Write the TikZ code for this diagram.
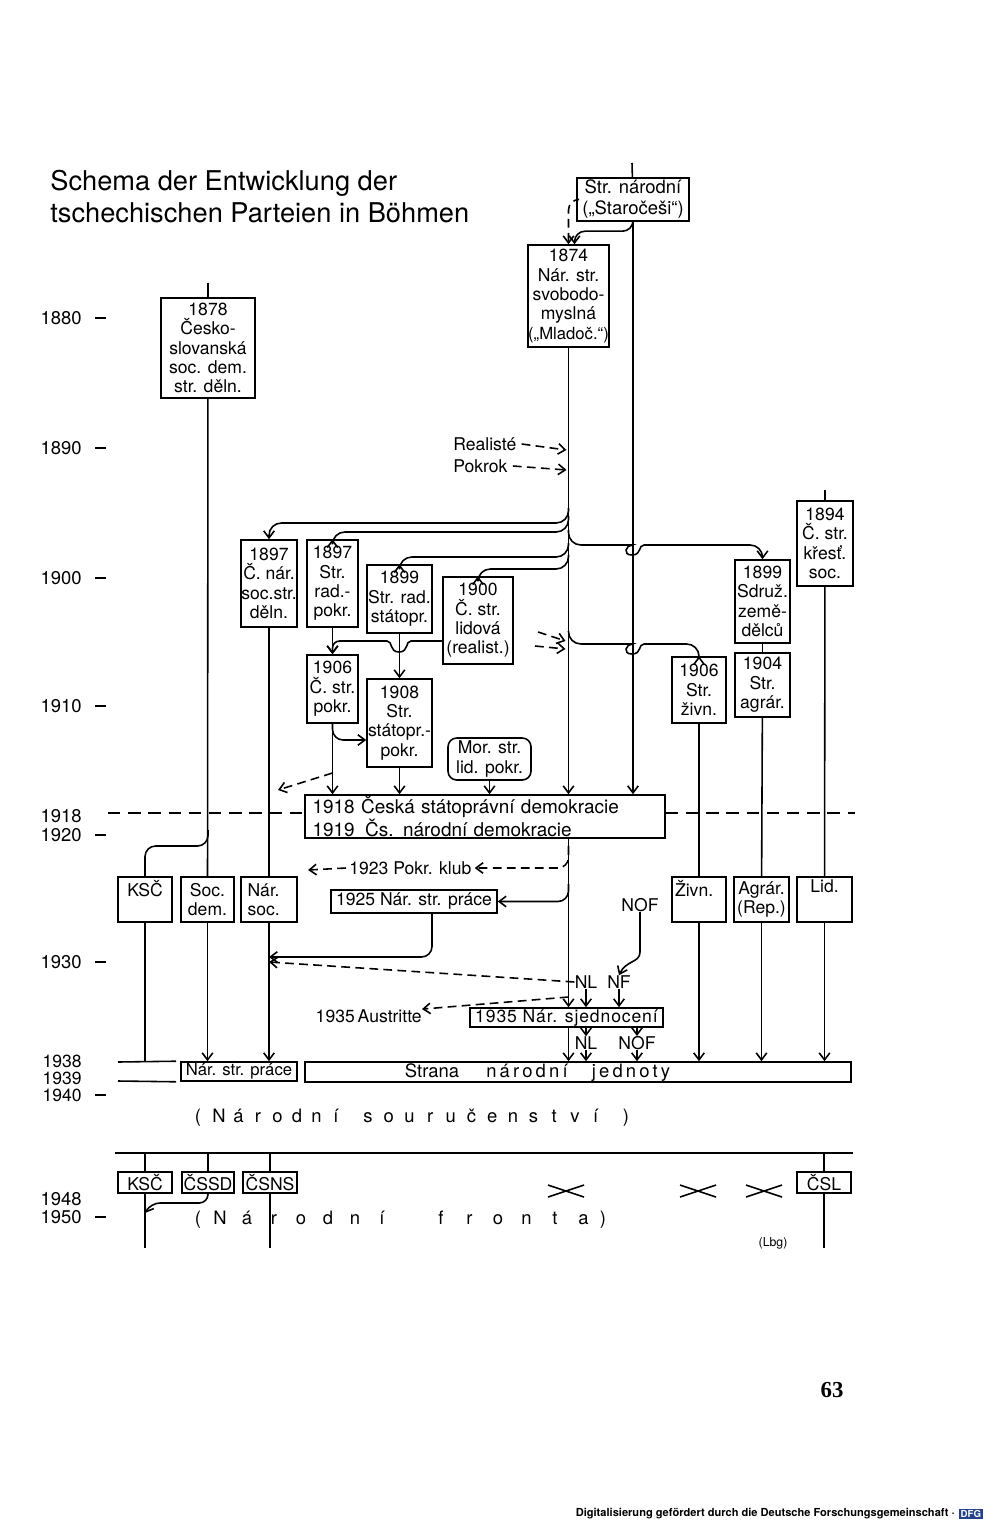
\documentclass[tikz,border=0pt]{standalone}
\usepackage{fontspec}
\setmainfont{TeX Gyre Heros}
\newfontfamily\pagenumfont{Liberation Serif}
\usetikzlibrary{arrows.meta,positioning,calc}
\definecolor{dfgblue}{HTML}{24418C}
\newcommand{\boxfont}{\fontsize{10}{11}\selectfont}
\tikzset{
  pbox/.style={draw, line width=0.9pt, inner sep=0pt, align=center, font=\boxfont},
  % box given by its corners (left, top, right, bottom), in picture pixels
  boxat/.style n args={4}{at={({(#1+#3)/2},{(#2+#4)/2})},
    minimum width={(#3-#1)*0.02cm}, minimum height={(#4-#2)*0.02cm}},
  pline/.style={line width=0.9pt},
  parr/.style={pline, -{Straight Barb[length=4pt,width=6pt]}},
  pdash/.style={parr, dash pattern=on 5pt off 3pt},
  sepline/.style={pline, dash pattern=on 7pt off 4.5pt},
  txt/.style={inner sep=0pt, font=\boxfont},
  yearlab/.style={anchor=east, inner sep=0pt, font=\fontsize{10.5}{10.5}\selectfont},
  headline/.style={anchor=west, inner sep=0pt, font=\fontsize{15.5}{18}\selectfont},
  lett/.style={anchor=base, inner sep=0pt, font=\fontsize{10.5}{11}\selectfont},
  toplab/.style={inner sep=2pt, font=\boxfont},
}

\begin{document}
\begin{tikzpicture}[x=0.02cm, y=-0.02cm]
  \useasboundingbox (0,0) rectangle (1000,1523);
  % title
  \node[headline] (title1) at (50,183) {Schema der Entwicklung der};
  \node[headline] (title2) at (50,213) {tschechischen Parteien in Böhmen};

  % time axis
  \foreach \yr/\yy in {1880/318,1890/448,1900/578,1910/706,1920/835,1930/962,1950/1217} {
    \node[yearlab] (y\yr) at (82,\yy) {\yr};
    \draw[pline] ($(y\yr.east)+(13,0)$) -- ++(11,0);
  }
  \foreach \yr/\yy in {1918/816,1948/1199}
    \node[yearlab] (y\yr) at (82,\yy) {\yr};
  \foreach \yr/\yy in {1938/1061,1939/1078,1940/1095}
    \node[yearlab, font=\fontsize{10}{10}\selectfont] (y\yr) at (82,\yy) {\yr};
  \draw[pline] ($(y1940.east)+(13,0)$) -- ++(11,0);

  % parties up to 1918
  \node[pbox, boxat={577}{178}{689}{221}, font=\fontsize{10.5}{12}\selectfont] (sn) {Str. národní\\(„Staročeši“)};
  \node[pbox, boxat={528}{245}{609}{347}] (b1874) {1874\\Nár. str.\\svobodo-\\myslná\\{\fontsize{9.5}{11}\selectfont(„Mladoč.“)}};
  \node[pbox, boxat={161}{298}{255}{398}] (b1878) {1878\\Česko-\\slovanská\\soc. dem.\\str. děln.};
  \node[pbox, boxat={241}{540}{297}{627}] (b97a) {1897\\Č. nár.\\soc.str.\\děln.};
  \node[pbox, boxat={307}{540}{358}{627}] (b97b) {1897\\Str.\\rad.-\\pokr.};
  \node[pbox, boxat={367}{565}{432}{633}] (b99r) {1899\\Str. rad.\\státopr.};
  \node[pbox, boxat={443}{577}{513}{664}] (b00) {1900\\Č. str.\\lidová\\(realist.)};
  \node[pbox, boxat={797}{501}{853}{586}] (b94) {1894\\Č. str.\\křesť.\\soc.};
  \node[pbox, boxat={735}{560}{790}{643}] (b99s) {1899\\Sdruž.\\země-\\dělců};
  \node[pbox, boxat={735}{653}{790}{717}] (b04) {1904\\Str.\\agrár.};
  \node[pbox, boxat={672}{657}{726}{723}] (b06z) {1906\\Str.\\živn.};
  \node[pbox, boxat={307}{655}{358}{723}] (b06p) {1906\\Č. str.\\pokr.};
  \node[pbox, boxat={367}{679}{432}{767}] (b08) {1908\\Str.\\státopr.-\\pokr.};
  \node[pbox, rounded corners=5pt, boxat={448}{738}{531}{780}] (mor) {Mor. str.\\lid. pokr.};
  \node[txt, anchor=west] (real) at (453,444) {Realisté};
  \node[txt, anchor=west] (pokrok) at (453,466) {Pokrok};
  \coordinate (sntop) at (632,163);
  \coordinate (b1878top) at (208,283);
  \coordinate (b94top) at (825,490);

  % 1918 and after
  \node[pbox, boxat={305}{795}{665}{838}, text width=6.9cm, align=left,
    font=\fontsize{10.8}{10.5}\selectfont] (b1918) {1918 Česká státoprávní demokracie\\1919\hspace{0.55em}Čs. národní demokracie};
  \coordinate (sepl) at (108,813);
  \coordinate (sepr) at (855,813);
  \node[pbox, boxat={118}{877}{172}{922}, label={[toplab, anchor=north]north:KSČ}] (ksc) {};
  \node[pbox, boxat={181}{877}{234}{922}] (socdem) {Soc.\\dem.};
  \node[pbox, boxat={241}{877}{297}{922}, align=left] (narsoc) {Nár.\\soc.\hspace*{0.6em}};
  \node[pbox, boxat={672}{877}{726}{922}, label={[toplab, anchor=north west]north west:Živn.}] (zivn) {};
  \node[pbox, boxat={734}{877}{789}{922}] (agrar) {Agrár.\\(Rep.)};
  \node[pbox, boxat={797}{877}{852}{922}, label={[toplab, anchor=north]north:Lid.}] (lid) {};
  \node[txt, anchor=west] (pk) at (349,868) {1923 Pokr. klub};
  \coordinate (pkl) at (308,870);
  \node[pbox, boxat={331}{890}{497}{913}] (b1925) {1925 Nár. str. práce};
  \node[txt] (nof) at (640,905) {NOF};
  \node[txt] (nl1) at (586,982) {NL};
  \node[txt] (nf1) at (619,982) {NF};
  \node[pbox, boxat={470}{1008}{663}{1027}, font=\boxfont\addfontfeature{LetterSpace=5}] (b1935) {1935 Nár. sjednocení};
  \node[txt, anchor=east] (aus) at (422,1016) {1935\,Austritte};
  \node[txt] (nl2) at (586,1043) {NL};
  \node[txt] (nof2) at (637,1043) {NOF};

  % 1938/39 band
  \node[pbox, boxat={181}{1062}{297}{1081}, font=\fontsize{9.5}{10}\selectfont] (nsp) {Nár. str. práce};
  \node[pbox, boxat={305}{1062}{851}{1082}] (snj) {};
  \node[lett] (snj1) at (432,1077) {Strana};
  \node[lett, font=\fontsize{10.5}{11}\selectfont\addfontfeature{LetterSpace=17}] (snj2) at (527,1077) {národní};
  \node[lett, font=\fontsize{10.5}{11}\selectfont\addfontfeature{LetterSpace=17}] (snj3) at (631,1077) {jednoty};
  \coordinate (bandl) at (118,1062);
  \coordinate (bandl2) at (118,1081);
  \draw[pline] (bandl) -- ($(nsp.north west)+(-4,0)$);
  \draw[pline] (bandl2) -- ($(nsp.south west)+(-4,0)$);

  % Narodni sourucenstvi, spread out
  \node[lett] (sopen) at (198,1122) {(};
  \foreach \c [count=\i] in {N,á,r,o,d,n,í}
    \node[lett] (sa\i) at ({219+(\i-1)*19.5},1122) {\c};
  \foreach \c [count=\i] in {s,o,u,r,u,č,e,n,s,t,v,í}
    \node[lett] (sb\i) at ({368+(\i-1)*20.7},1122) {\c};
  \node[lett] (sclose) at (626,1122) {)};

  % after 1948
  \coordinate (nfl) at (115,1153);
  \coordinate (nfr) at (853,1153);
  \coordinate (bend) at (0,1248);
  \node[pbox, boxat={118}{1172}{172}{1193}] (ksc2) {KSČ};
  \node[pbox, boxat={182}{1172}{234}{1193}] (cssd) {ČSSD};
  \node[pbox, boxat={243}{1172}{297}{1193}] (csns) {ČSNS};
  \node[pbox, boxat={797}{1172}{851}{1193}] (csl) {ČSL};
  \coordinate (cssdarr) at (145,1213);
  \node[lett] (fopen) at (198,1224) {(};
  \foreach \c [count=\i] in {N,á,r,o,d,n,í}
    \node[lett] (fa\i) at ({220+(\i-1)*27},1224) {\c};
  \foreach \c [count=\i] in {f,r,o,n,t,a}
    \node[lett] (fb\i) at ({441+(\i-1)*28.5},1224) {\c};
  \node[lett] (fclose) at (603,1224) {)};
  \node[txt, font=\fontsize{7}{8}\selectfont] (lbg) at (773,1243) {(Lbg)};

  % lines before 1918
  \draw[pline] (sntop) -- (sn);
  \draw[parr] (sn) -- (sn |- b1918.north);
  \draw[parr, rounded corners=6pt] (sn.south) |- ($(b1874.north)+(6,-13)$) -- ($(b1874.north)+(6,0)$);
  \draw[pdash, rounded corners=6pt] (sn.west) -| (b1874.north);
  \draw[parr] (b1874) -- (b1874 |- b1918.north);
  \draw[pdash] ($(real.east)+(5,0)$) -- ($(real.east -| b1874)+(-2,6)$);
  \draw[pdash] ($(pokrok.east)+(5,0)$) -- ($(pokrok.east -| b1874)+(-2,4)$);
  \draw[pline] (b1878top) -- (b1878);
  \draw[pline] (b1878) -- (socdem);
  % branches off the Mladoceši line
  \draw[parr, rounded corners=7pt] (b1874.south |- 0,508) |- (b97a.north |- 0,523) -- (b97a.north);
  \draw[parr, rounded corners=7pt] (b1874.south |- 0,516) |- (b97b.north |- 0,532) -- (b97b.north);
  \draw[parr, rounded corners=7pt] (b1874.south |- 0,543) |- (b99r.north |- 0,557) -- (b99r.north);
  \draw[parr, rounded corners=7pt] (b1874.south |- 0,555) |- (b00.north |- 0,569) -- (b00.north);
  \draw[parr, rounded corners=7pt] (b1874.south |- 0,530) |- (620,545) [sharp corners]
    .. controls (626,545) and (622,555) .. (632,555) .. controls (642,555) and (638,545) .. (644,545)
    [rounded corners=7pt] -| (b99s.north);
  \draw[parr, rounded corners=7pt] (b1874.south |- 0,631) |- (620,644) [sharp corners]
    .. controls (626,644) and (622,654) .. (632,654) .. controls (642,654) and (638,644) .. (644,644)
    [rounded corners=7pt] -| (b06z.north);
  \coordinate (dl1) at (538,632);
  \coordinate (dl2) at (535,646);
  \draw[pdash] (dl1) -- ($(b1874.south |- dl1)+(-3,9)$);
  \draw[pdash] (dl2) -- ($(b1874.south |- dl2)+(-3,3)$);
  % Realisten and radicals
  \draw[parr] (b97b) -- (b06p);
  \draw[parr] (b00.west |- 0,641) -- (411,641) [sharp corners]
    .. controls (405,641) and (409,652) .. (399,652) .. controls (389,652) and (393,641) .. (387,641)
    [rounded corners=4pt] -| (b06p.north);
  \draw[parr] (b99r) -- (b08);
  \draw[parr] (b06p.south) -- (b06p.south |- b1918.north);
  \draw[parr, rounded corners=6pt] (b06p.south) |- (b08.west |- 0,740);
  \draw[parr] (b08) -- (b08 |- b1918.north);
  \draw[parr] (mor) -- (mor |- b1918.north);
  \coordinate (dl3) at (278,790);
  \draw[pdash] (b06p.south |- 0,773) -- (dl3);
  \draw[pline] (b97a) -- (narsoc);
  \draw[pline] (b99s) -- (b04);
  \draw[pline] (b04) -- (agrar);
  \draw[pline] (b06z) -- (zivn);
  \draw[pline] (b94top) -- (b94);
  \draw[pline] (b94) -- (lid);
  \draw[sepline] (sepl) -- (b1918.west |- sepl);
  \draw[sepline] (b1918.east |- sepr) -- (sepr);

  % lines after 1918
  \draw[pline, rounded corners=6pt] (b1878.south |- 0,830) |- (ksc.north |- 0,846) -- (ksc.north);
  \draw[parr] (socdem) -- (socdem |- nsp.north);
  \draw[parr] (narsoc) -- (narsoc |- nsp.north);
  \draw[pline] (ksc) -- (ksc |- bandl);
  \draw[parr] (b1918.south -| b1874) -- (b1935.north -| b1874);
  \draw[pdash, rounded corners=6pt] (b1874.south |- 0,846) |- ($(pk.east)+(3,0)$);
  \draw[pdash] ($(pk.west)+(-3,0)$) -- (pkl);
  \draw[parr, rounded corners=6pt] (b1874.south |- 0,884) |- (b1925.east);
  \draw[parr, rounded corners=6pt] (b1925.south -| 432,0) |- (narsoc.south |- 0,957);
  \draw[pdash] (nl1.west) -- (narsoc.south |- 0,962);
  \draw[parr] (nof.south) -- (640,952) .. controls (640,963) and (626,960) .. (nf1.north);
  \draw[parr] (nl1) -- (nl1 |- b1935.north);
  \draw[parr] (nf1) -- (nf1 |- b1935.north);
  \draw[pdash] (b1874.south |- 0,997) -- (aus.north east);
  \draw[parr] (b1935.south -| nl2) -- (nl2);
  \draw[parr] (b1935.south -| nof2) -- (nof2);
  \draw[parr] (b1935.south -| b1874) -- (b1874 |- snj.north);
  \draw[parr] (nl2) -- (nl2 |- snj.north);
  \draw[parr] (nof2) -- (nof2 |- snj.north);
  \draw[parr] (zivn) -- (zivn |- snj.north);
  \draw[parr] (agrar) -- (agrar |- snj.north);
  \draw[parr] (lid) -- (lid |- snj.north);

  % after 1948
  \draw[pline] (nfl) -- (nfr);
  \draw[pline] (ksc2 |- nfl) -- (ksc2);
  \draw[pline] (ksc2) -- (ksc2 |- bend);
  \draw[pline] (cssd |- nfl) -- (cssd);
  \draw[parr, rounded corners=5pt] (cssd.south) |- ($(cssdarr)+(6,-10)$) -- (cssdarr);
  \draw[pline] (csns |- nfl) -- (csns);
  \draw[pline] (csns) -- (csns |- bend);
  \draw[pline] (csl |- nfl) -- (csl);
  \draw[pline] (csl) -- (csl |- bend);
  \foreach \xm in {566,698,764}
    \draw[pline] (\xm-18,1185) -- (\xm+18,1197) (\xm-18,1197) -- (\xm+18,1185);

  % page
  \node[font=\pagenumfont\bfseries\fontsize{13}{13}\selectfont, inner sep=0pt] (pnum) at (832,1390) {63};
  \node[anchor=east, inner sep=0pt, font=\bfseries\fontsize{6.3}{7}\selectfont] (foot) at (955,1514)
    {Digitalisierung gefördert durch die Deutsche Forschungsgemeinschaft ·};
  \node[fill=dfgblue, text=white, font=\bfseries\fontsize{5.5}{6}\selectfont, inner sep=1pt,
    right=2pt of foot] (dfg) {DFG};
\end{tikzpicture}
\end{document}
